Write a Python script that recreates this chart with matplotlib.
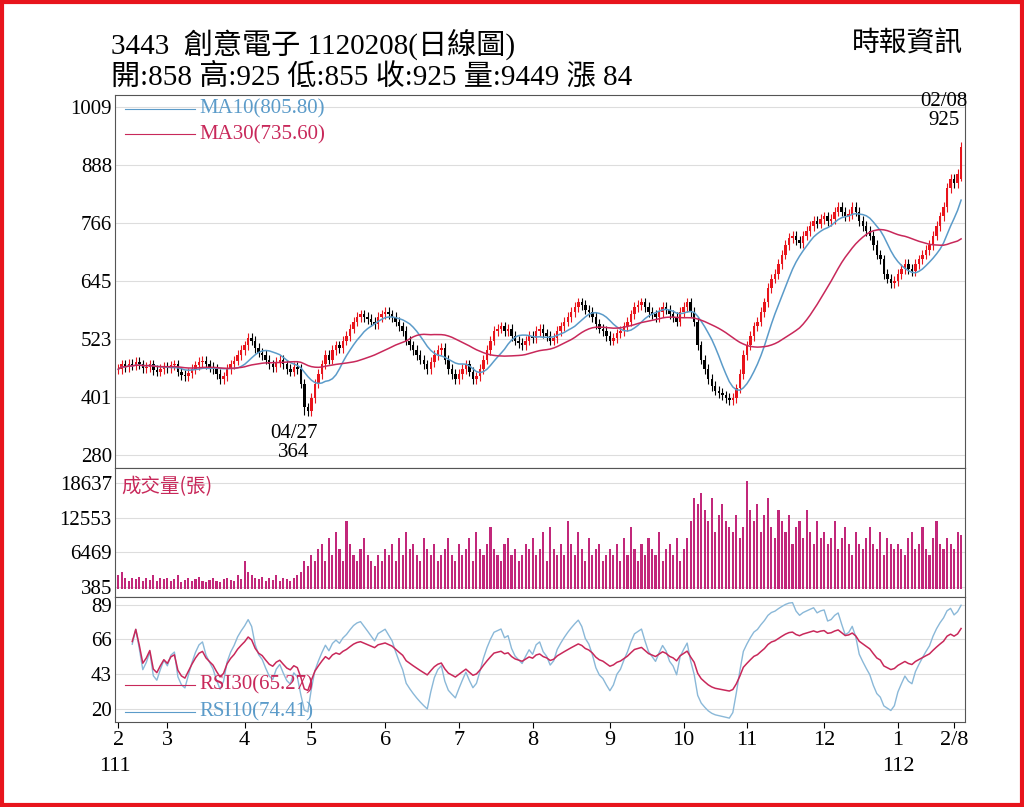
import numpy as np
import pandas as pd
import matplotlib.pyplot as plt
from matplotlib.patches import Rectangle

plt.rcParams['font.family'] = ['Liberation Serif', 'Noto Sans CJK TC', 'DejaVu Sans']

# closes per month, Feb 2022 .. Feb 2023
months = ['2', '3', '4', '5', '6', '7', '8', '9', '10', '11', '12', '1', '2/8']
closes_by_month = [
    [460, 470, 465, 472, 468, 475, 470, 462, 465, 470, 458, 455, 460, 465],
    [462, 468, 470, 455, 448, 445, 452, 460, 468, 475, 478, 470, 465, 460, 450, 440, 445, 460, 470, 478, 490, 500],
    [510, 525, 520, 505, 495, 490, 480, 470, 465, 475, 480, 470, 460, 455, 465, 460, 430, 380, 372],
    [400, 430, 450, 470, 490, 480, 500, 510, 505, 520, 530, 545, 560, 570, 575, 570, 565, 560, 555, 570, 575],
    [580, 575, 570, 560, 550, 540, 520, 510, 500, 490, 480, 470, 460, 475, 490, 500, 505, 480, 460, 450, 440],
    [450, 460, 470, 455, 440, 445, 460, 480, 500, 520, 540, 545, 550, 540, 545, 530, 520, 515, 510, 520, 530],
    [525, 540, 545, 535, 530, 520, 525, 540, 550, 560, 570, 580, 590, 600, 595, 585, 580, 570, 555, 545, 540, 530],
    [520, 525, 535, 540, 550, 560, 575, 590, 595, 600, 590, 580, 575, 570, 580, 590, 585, 575, 570, 560, 580],
    [590, 600, 580, 560, 510, 480, 460, 440, 425, 415, 410, 405, 400, 395, 400, 420, 450, 490],
    [510, 530, 550, 560, 580, 600, 630, 650, 660, 680, 700, 720, 735, 740, 730, 725, 740, 750, 760, 770, 765, 775],
    [780, 770, 775, 790, 800, 790, 780, 785, 800, 790, 770, 760, 750, 740, 720, 700, 690, 660, 650, 640, 645],
    [660, 670, 680, 670, 665, 680, 690, 700, 710, 720, 740, 760, 780, 800],
    [840, 858, 850, 870, 925],
]
vol_by_month = [
    [2.5, 3, 2, 1.5, 2, 1.8, 2.2, 1.5, 2, 1.7, 2.5, 1.5, 2, 1.8],
    [2, 1.5, 1.8, 2.5, 1.2, 1.6, 2, 1.4, 1.8, 2.2, 1.5, 1.3, 1.7, 2, 1.5, 1.2, 1.8, 2, 1.6, 1.4, 2.5, 1.8],
    [5, 3, 2.5, 2, 1.8, 2.2, 1.5, 2, 1.7, 2.5, 1.5, 2, 1.8, 1.5, 2, 2.5, 3, 5, 4],
    [6, 5, 7, 8, 5, 9, 6, 10, 7, 5, 12, 8, 6, 5, 7, 9, 6, 5, 4, 6, 5],
    [7, 6, 8, 5, 9, 6, 10, 7, 8, 6, 5, 9, 7, 6, 8, 5, 6, 7, 9, 6, 5],
    [8, 6, 7, 9, 5, 10, 7, 6, 8, 11, 7, 6, 5, 8, 9, 6, 7, 5, 6, 8, 7],
    [9, 6, 7, 10, 5, 11, 7, 6, 8, 6, 12, 8, 6, 10, 7, 5, 9, 6, 7, 8, 5, 6],
    [7, 6, 8, 5, 9, 6, 11, 7, 5, 8, 6, 9, 7, 6, 10, 5, 7, 8, 6, 9, 5],
    [7, 9, 12, 16, 15, 17, 14, 12, 16, 10, 13, 15, 12, 11, 10, 13, 9, 11],
    [19, 14, 12, 15, 10, 13, 16, 11, 9, 14, 12, 10, 13, 8, 11, 12, 9, 14, 10, 8, 12, 9],
    [10, 8, 9, 12, 7, 9, 11, 8, 6, 10, 8, 7, 9, 11, 8, 7, 10, 6, 9, 8, 7],
    [8, 7, 6, 9, 10, 7, 8, 11, 7, 6, 9, 12, 8, 7],
    [9, 8, 7, 10, 9.449],
]
legend_ma = ['MA10(805.80)', 'MA30(735.60)']
legend_rsi = ['RSI30(65.27)', 'RSI10(74.41)']

close = np.array(sum(closes_by_month, []), dtype=float)
volume = np.array(sum(vol_by_month, []), dtype=float) * 1000
month_start = np.cumsum([0] + [len(m) for m in closes_by_month])[:-1]
n = len(close)
x = np.arange(n)
opens = np.r_[close[0], close[:-1]]
opens[-1] = 858
high = np.maximum(opens, close) + 10
low = np.minimum(opens, close) - 10
low[-1] = 855
low[month_start[3] - 2] = 364

s = pd.Series(close)
ma10 = s.rolling(10, min_periods=1).mean()
ma30 = s.rolling(30, min_periods=1).mean()


def rsi(series, k):
    d = series.diff().fillna(0)
    up = d.clip(lower=0).ewm(alpha=1 / k, adjust=False).mean()
    dn = (-d.clip(upper=0)).ewm(alpha=1 / k, adjust=False).mean()
    r = 100 * up / (up + dn + 1e-9)
    r[:4] = np.nan
    return r


rsi10 = rsi(s, 10)
rsi30 = rsi(s, 30)

blue = '#5b9bc9'
crim = '#c8285a'
mag = '#c2287a'

fig = plt.figure(figsize=(10.24, 8.07), dpi=100)
fig.patches.append(Rectangle((0.002, 0.002), 0.996, 0.996, transform=fig.transFigure,
                             fill=False, ec='#e8141c', lw=3))
L, W = 0.112, 0.83
ax1 = fig.add_axes([L, 0.42, W, 0.462])
ax2 = fig.add_axes([L, 0.26, W, 0.16], sharex=ax1)
ax3 = fig.add_axes([L, 0.105, W, 0.155], sharex=ax1)

for a in (ax1, ax2, ax3):
    for sp in a.spines.values():
        sp.set_color('#555555')
    a.tick_params(axis='y', length=0, labelsize=15, pad=2)
    a.grid(axis='y', color='#dddddd', lw=0.8)
    a.set_axisbelow(True)

# candles
for i in range(n):
    c = '#e8141c' if close[i] >= opens[i] else 'black'
    ax1.vlines(x[i], low[i], high[i], color=c, lw=0.8)
    ax1.add_patch(Rectangle((x[i] - 0.35, min(opens[i], close[i])), 0.7,
                            max(abs(close[i] - opens[i]), 1.5), color=c, lw=0))
ax1.plot(x, ma10, color=blue, lw=1.1)
ax1.plot(x, ma30, color=crim, lw=1.1)
ax1.set_yticks([280, 401, 523, 645, 766, 888, 1009])
ax1.set_ylim(253, 1034)
ax1.plot([2, 22], [1005, 1005], color=blue, lw=0.8)
ax1.plot([2, 22], [952, 952], color=crim, lw=0.8)
ax1.text(23, 1005, legend_ma[0], color=blue, fontsize=15, va='center')
ax1.text(23, 952, legend_ma[1], color=crim, fontsize=15, va='center')
ax1.text(n - 6, 962, '02/08\n925', fontsize=15, ha='center', va='bottom', linespacing=1.0)
ax1.text(month_start[3] - 5, 345, '04/27\n364', fontsize=15, ha='center', va='top', linespacing=1.0)

ax2.bar(x, volume, width=0.6, color=mag)
ax2.set_yticks([385, 6469, 12553, 18637])
ax2.set_ylim(-1400, 21300)
ax2.text(1, 18000, '成交量(張)', color=crim, fontsize=14, va='center', family=['Noto Sans CJK TC'])

ax3.plot(x, rsi10, color='#8ab8d8', lw=1)
ax3.plot(x, rsi30, color=crim, lw=1.1)
ax3.set_yticks([20, 43, 66, 89])
ax3.set_ylim(11, 94)
ax3.plot([2, 22], [36, 36], color=crim, lw=0.8)
ax3.plot([2, 22], [18, 18], color=blue, lw=0.8)
ax3.text(23, 36, legend_rsi[0], color=crim, fontsize=15, va='center')
ax3.text(23, 18, legend_rsi[1], color=blue, fontsize=15, va='center')

ax3.set_xticks(list(month_start[:-1]) + [n - 3])
ax3.set_xticklabels(months, fontsize=16)
ax3.tick_params(axis='x', length=4, pad=2)
plt.setp(ax1.get_xticklabels(), visible=False)
plt.setp(ax2.get_xticklabels(), visible=False)
ax1.tick_params(axis='x', length=0)
ax2.tick_params(axis='x', length=0)
ax1.set_xlim(-1, n)
fig.text(0.112, 0.045, '111', fontsize=16, ha='center')
fig.text(L + W * (month_start[11] + 1) / (n + 1), 0.045, '112', fontsize=16, ha='center')

fig.text(0.108, 0.945, '3443  創意電子 1120208(日線圖)', fontsize=21, va='center')
fig.text(0.108, 0.905, '開:858 高:925 低:855 收:925 量:9449 漲 84', fontsize=21, va='center')
fig.text(0.94, 0.945, '時報資訊', fontsize=20, va='center', ha='right')

fig.savefig('out.png', dpi=100)
